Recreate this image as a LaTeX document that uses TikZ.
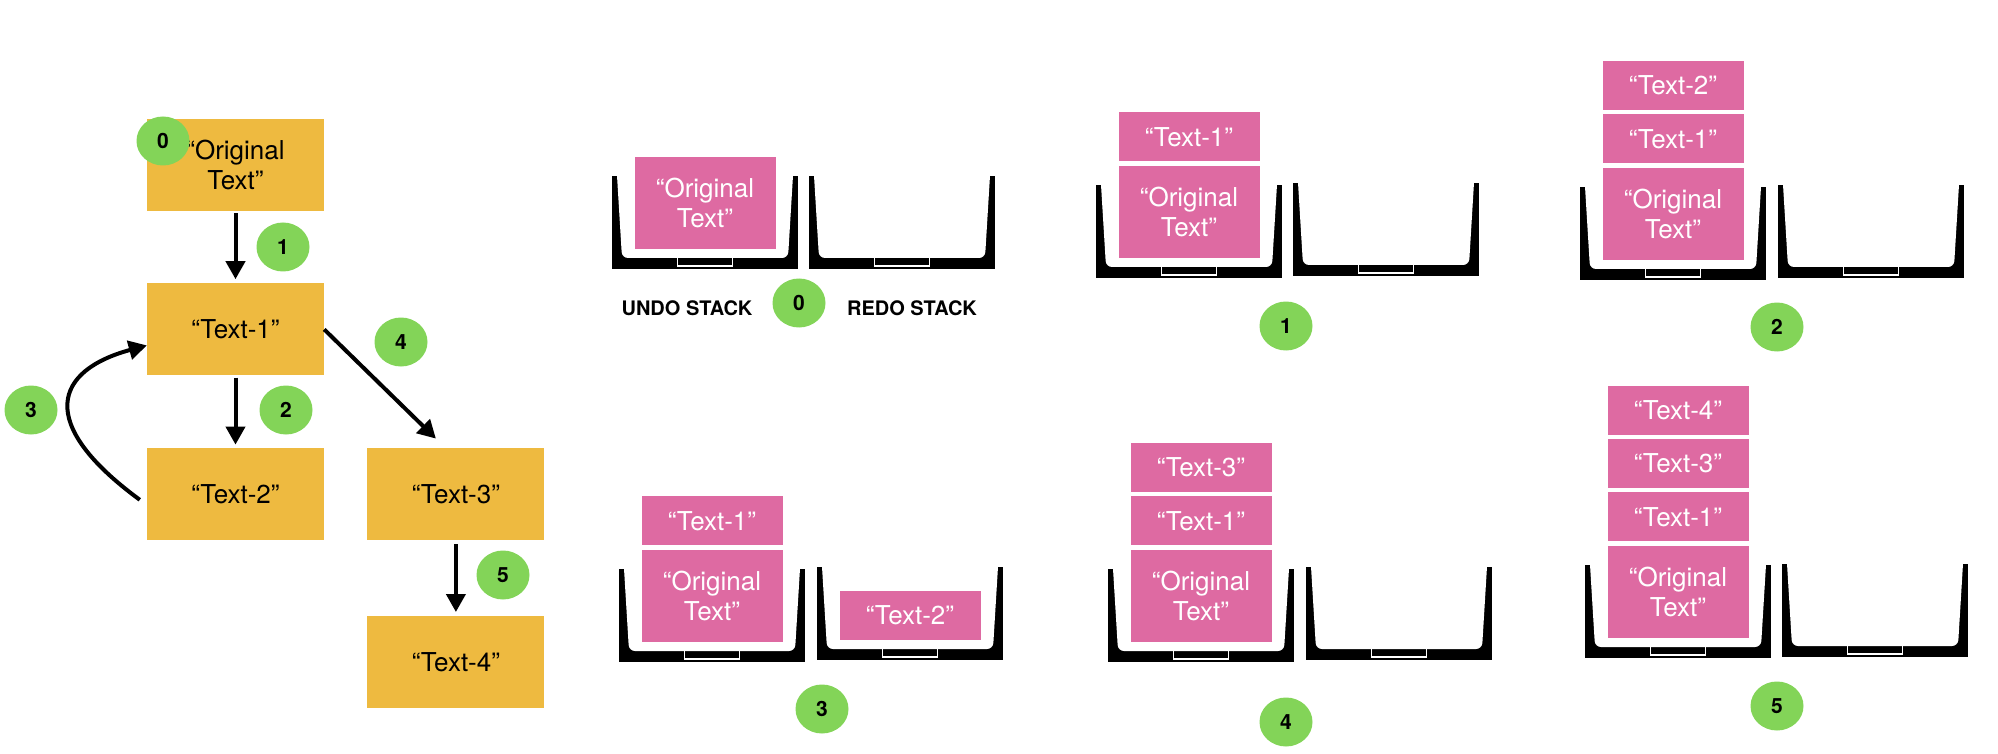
\documentclass[tikz,border=0pt]{standalone}
\usepackage{fontspec}
\setmainfont{TeX Gyre Heros}
\usetikzlibrary{positioning,arrows.meta,shapes.geometric}
\definecolor{stateorange}{RGB}{238,186,64}
\definecolor{stackpink}{RGB}{222,106,162}
\definecolor{stepgreen}{RGB}{131,212,88}
\tikzset{state/.style={fill=stateorange,minimum width=177pt,minimum height=92pt,inner sep=0pt,align=center,font=\fontsize{26}{30}\selectfont}}
\tikzset{item/.style={fill=stackpink,text=white,minimum width=141pt,minimum height=49pt,inner sep=0pt,align=center,font=\fontsize{26}{30}\selectfont}}
\tikzset{tallitem/.style={item,minimum height=92pt}}
\tikzset{badge/.style={ellipse,fill=stepgreen,minimum width=53pt,minimum height=49pt,inner sep=0pt,font=\fontsize{21}{21}\selectfont\bfseries}}
\tikzset{arr/.style={line width=4pt,-{Triangle[width=19pt,length=18pt]}}}
\tikzset{stacktitle/.style={font=\fontsize{20}{24}\selectfont\bfseries}}
\tikzset{bin/.pic={
    \fill[black] (0,0) rectangle (186,-93);
    \fill[white,rounded corners=6pt] (4.6,-100) -- (10,-11) -- (176,-11) -- (181.4,-100) -- cycle;
    \draw[white,line width=1.5pt] (65.5,-3) rectangle (120.5,-12);
}}

\begin{document}
\begin{tikzpicture}[x=1pt,y=-1pt]
                  \useasboundingbox (0,0) rectangle (1998,754);
                  \node[state] (orig) at (235.5,165) {“Original\\Text”};
                  \node[state,below=72pt of orig] (t1) {“Text-1”};
                  \node[state,below=72pt of t1] (t2) {“Text-2”};
                  \node[state,right=43pt of t2] (t3) {“Text-3”};
                  \node[state,below=76pt of t3] (t4) {“Text-4”};
                  \draw[arr,shorten <=2pt,shorten >=4pt] (orig) -- (t1);
                  \draw[arr,shorten <=2pt,shorten >=3pt] (t1) -- (t2);
                  \draw[arr,shorten <=4pt,shorten >=4pt] (t3) -- (t4);
                  \draw[arr] (t1.east) -- ([xshift=-20pt,yshift=9pt]t3.north);
                  \draw[arr] ([xshift=-7pt,yshift=-6pt]t2.west) .. controls +(-105,-77) and +(-92,25) .. ([yshift=-16pt]t1.west);
                  \node[badge] (g0) at (163,141) {0};
                  \node[badge] (g1) at (283,247) {1};
                  \node[badge] (g2) at (286,410) {2};
                  \node[badge] (g3) at (31,410) {3};
                  \node[badge] (g4) at (401,342) {4};
                  \node[badge] (g5) at (503,575) {5};

                  \pic at (612,269) {bin};
                  \pic at (809,269) {bin};
                  \node[tallitem,anchor=south] (u0a) at (705,249) {“Original\\Text”};
                  \node[stacktitle] (undo) at (687,308) {UNDO STACK};
                  \node[stacktitle] (redo) at (912,308) {REDO STACK};
                  \node[badge] (s0) at (799,303) {0};

                  \pic at (1096,278) {bin};
                  \pic at (1293,276) {bin};
                  \node[tallitem,anchor=south] (u1a) at (1189,258) {“Original\\Text”};
                  \node[item,above=4pt of u1a] (u1b) {“Text-1”};
                  \node[badge] (s1) at (1286,326) {1};

                  \pic at (1580,280) {bin};
                  \pic at (1778,278) {bin};
                  \node[tallitem,anchor=south] (u2a) at (1673,260) {“Original\\Text”};
                  \node[item,above=4pt of u2a] (u2b) {“Text-1”};
                  \node[item,above=4pt of u2b] (u2c) {“Text-2”};
                  \node[badge] (s2) at (1777,327) {2};

                  \pic at (619,662) {bin};
                  \pic at (817,660) {bin};
                  \node[tallitem,anchor=south] (u3a) at (712,642) {“Original\\Text”};
                  \node[item,above=4pt of u3a] (u3b) {“Text-1”};
                  \node[item,anchor=south] (r3a) at (910,640) {“Text-2”};
                  \node[badge] (s3) at (822,709) {3};

                  \pic at (1108,662) {bin};
                  \pic at (1306,660) {bin};
                  \node[tallitem,anchor=south] (u4a) at (1201,642) {“Original\\Text”};
                  \node[item,above=4pt of u4a] (u4b) {“Text-1”};
                  \node[item,above=4pt of u4b] (u4c) {“Text-3”};
                  \node[badge] (s4) at (1286,722) {4};

                  \pic at (1585,658) {bin};
                  \pic at (1782,657) {bin};
                  \node[tallitem,anchor=south] (u5a) at (1678,638) {“Original\\Text”};
                  \node[item,above=4pt of u5a] (u5b) {“Text-1”};
                  \node[item,above=4pt of u5b] (u5c) {“Text-3”};
                  \node[item,above=4pt of u5c] (u5d) {“Text-4”};
                  \node[badge] (s5) at (1777,706) {5};
              \end{tikzpicture}
\end{document}
